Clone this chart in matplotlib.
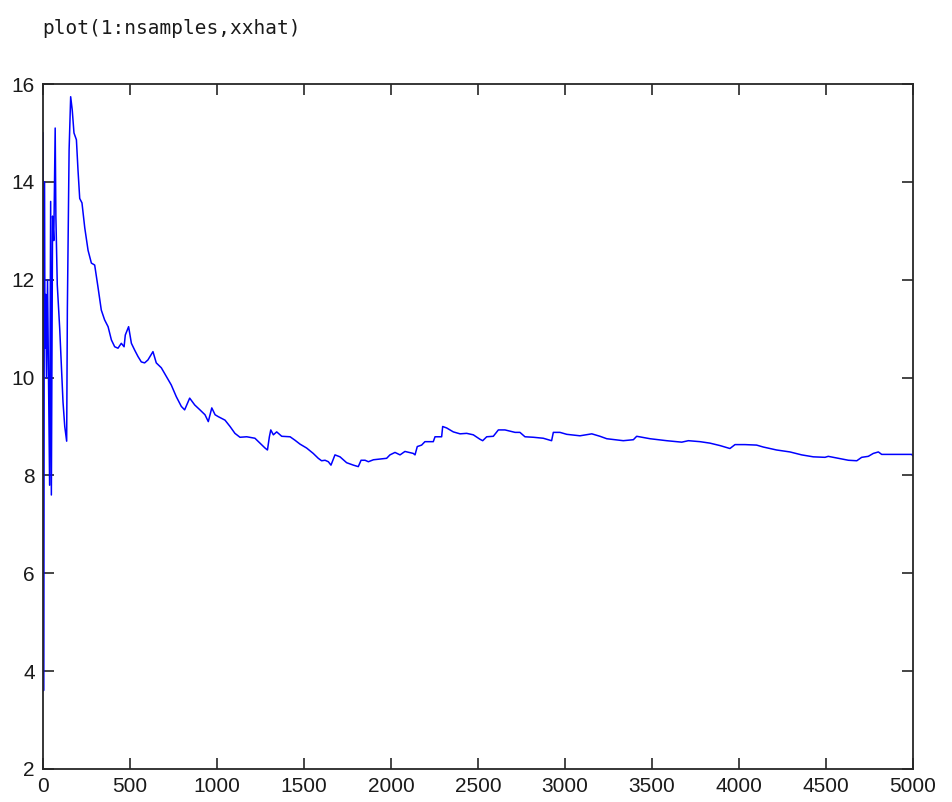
import matplotlib
matplotlib.use("Agg")
import matplotlib.pyplot as plt

# sample index and running estimate xxhat
sample = [1, 3, 8, 12, 16, 20, 26, 32, 38, 44, 48, 55, 62, 70, 74, 82, 96, 105, 115, 125,
          136, 140, 150, 159, 168, 178, 192, 201, 211, 224, 240, 259, 278, 297, 316, 335,
          354, 374, 393, 412, 431, 450, 466, 473, 492, 508, 527, 546, 565, 584, 603, 632,
          651, 680, 709, 737, 766, 795, 814, 843, 872, 902, 931, 950, 970, 989, 1008, 1046,
          1075, 1103, 1132, 1171, 1218, 1247, 1276, 1290, 1301, 1309, 1324, 1343, 1372, 1420,
          1448, 1477, 1515, 1553, 1582, 1601, 1621, 1640, 1655, 1678, 1707, 1745, 1784, 1812,
          1828, 1851, 1870, 1899, 1975, 1994, 2023, 2052, 2080, 2128, 2138, 2151, 2176, 2195,
          2243, 2253, 2291, 2297, 2320, 2358, 2397, 2435, 2473, 2511, 2527, 2550, 2588, 2617,
          2655, 2713, 2741, 2770, 2818, 2875, 2923, 2933, 2971, 3010, 3086, 3154, 3201, 3240,
          3335, 3393, 3412, 3489, 3584, 3671, 3709, 3776, 3833, 3891, 3948, 3977, 4034, 4101,
          4140, 4216, 4293, 4360, 4427, 4494, 4513, 4571, 4629, 4677, 4705, 4743, 4772, 4801,
          4820, 4992, 5000]
xxhat = [15.0, 3.6, 14.0, 10.6, 11.7, 10.0, 12.0, 9.8, 7.8, 13.6, 7.6, 13.3, 12.8, 15.1, 13.3,
         11.9, 11.0, 10.3, 9.5, 9.0, 8.7, 11.4, 14.65, 15.74, 15.47, 15.0, 14.86, 14.25, 13.66,
         13.57, 13.06, 12.6, 12.34, 12.3, 11.85, 11.38, 11.18, 11.04, 10.77, 10.63, 10.6, 10.7,
         10.63, 10.87, 11.04, 10.7, 10.56, 10.43, 10.32, 10.3, 10.36, 10.53, 10.3, 10.2, 10.02,
         9.85, 9.61, 9.41, 9.34, 9.58, 9.44, 9.34, 9.24, 9.1, 9.38, 9.24, 9.2, 9.13, 9.0, 8.86,
         8.78, 8.79, 8.76, 8.66, 8.56, 8.52, 8.79, 8.93, 8.83, 8.89, 8.8, 8.79, 8.72, 8.64, 8.56,
         8.45, 8.35, 8.30, 8.31, 8.28, 8.21, 8.42, 8.38, 8.26, 8.21, 8.18, 8.31, 8.31, 8.28, 8.32,
         8.35, 8.42, 8.47, 8.42, 8.49, 8.45, 8.42, 8.59, 8.62, 8.69, 8.69, 8.79, 8.79, 9.0, 8.97,
         8.89, 8.85, 8.86, 8.83, 8.74, 8.71, 8.79, 8.8, 8.93, 8.93, 8.88, 8.88, 8.79, 8.78, 8.76,
         8.71, 8.88, 8.88, 8.84, 8.81, 8.85, 8.80, 8.75, 8.71, 8.73, 8.80, 8.75, 8.71, 8.68, 8.71,
         8.69, 8.66, 8.61, 8.55, 8.63, 8.63, 8.62, 8.58, 8.52, 8.48, 8.42, 8.38, 8.37, 8.39, 8.35,
         8.31, 8.30, 8.37, 8.39, 8.45, 8.48, 8.43, 8.43, 8.40]

xticks = [0, 500, 1000, 1500, 2000, 2500, 3000, 3500, 4000, 4500, 5000]
yticks = [2, 4, 6, 8, 10, 12, 14, 16]

fig = plt.figure(figsize=(9.53, 8.02), dpi=100)
ax = fig.add_axes([43 / 953, 1 - 769 / 802, 870 / 953, 685 / 802])

ax.plot(sample, xxhat, color="#0000ff", lw=1.1)

ax.set_xlim(0, 5000)
ax.set_ylim(2, 16)
ax.set_xticks(xticks)
ax.set_yticks(yticks)
ax.tick_params(direction="in", length=8, width=1.2, color="#262626",
               top=True, right=True, labelsize=15, pad=6)
for lab in ax.get_xticklabels() + ax.get_yticklabels():
    lab.set_family("Liberation Sans")
    lab.set_color("#1a1a1a")
for sp in ax.spines.values():
    sp.set_linewidth(1.3)
    sp.set_color("#262626")

fig.text(42 / 953, 1 - 28 / 802, "plot(1:nsamples,xxhat)", family="DejaVu Sans Mono",
         fontsize=14, va="center", ha="left", color="#1a1a1a")

fig.savefig("out.png", dpi=100)
